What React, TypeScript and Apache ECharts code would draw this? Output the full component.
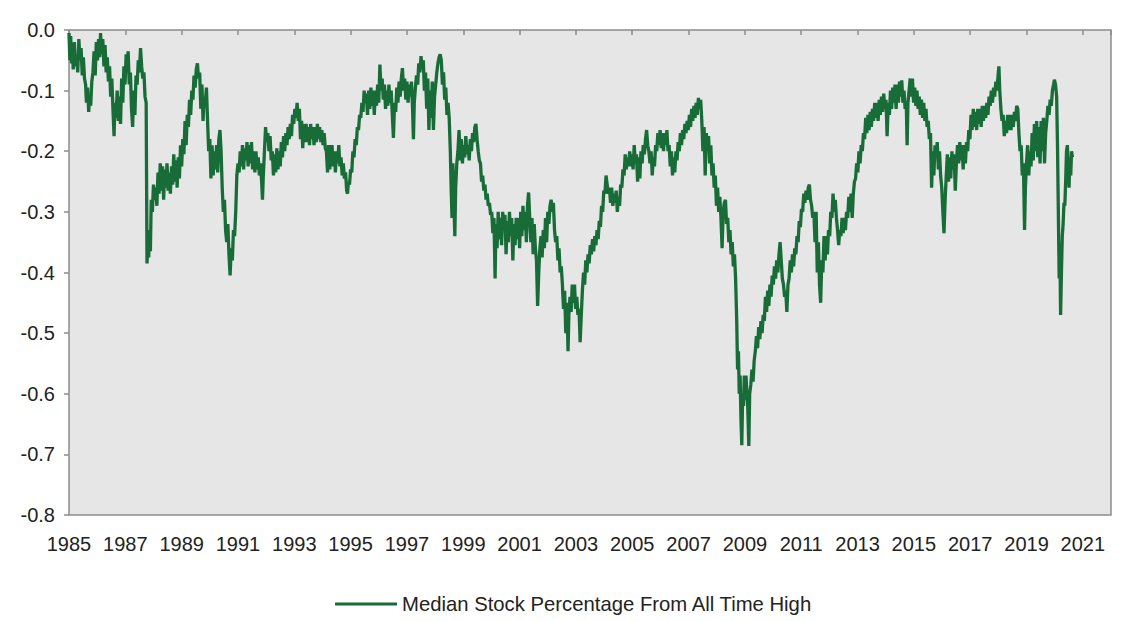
import React, { useEffect, useRef } from "react";
import * as echarts from "echarts";

const BASE_YEAR = 1985;
const END_YEAR = 2022;
const yTicks = [-0.8, -0.7, -0.6, -0.5, -0.4, -0.3, -0.2, -0.1, 0.0];
const seriesName = "Median Stock Percentage From All Time High";

// [decimal year, value]
const s1985_1987: [number, number][] = [
  [1985.00,-0.005],[1985.03,-0.05],[1985.06,-0.01],[1985.09,-0.055],[1985.12,-0.03],[1985.15,-0.065],[1985.19,-0.02],[1985.23,-0.06],[1985.27,-0.04],[1985.31,-0.07],[1985.35,-0.015],[1985.39,-0.05],[1985.43,-0.03],[1985.47,-0.075],[1985.51,-0.045],[1985.55,-0.08],[1985.59,-0.09],[1985.62,-0.12],[1985.66,-0.095],[1985.70,-0.135],[1985.73,-0.11],[1985.77,-0.125],[1985.81,-0.085],[1985.85,-0.07],[1985.89,-0.035],[1985.93,-0.075],[1985.97,-0.02],[1986.01,-0.05],[1986.05,-0.015],[1986.09,-0.045],[1986.12,-0.005],[1986.16,-0.04],[1986.20,-0.015],[1986.24,-0.06],[1986.28,-0.025],[1986.32,-0.07],[1986.36,-0.045],[1986.40,-0.085],[1986.44,-0.06],[1986.48,-0.11],[1986.52,-0.08],[1986.56,-0.13],[1986.60,-0.175],[1986.63,-0.12],[1986.67,-0.145],[1986.71,-0.1],[1986.75,-0.15],[1986.79,-0.11],[1986.83,-0.155],[1986.87,-0.08],[1986.91,-0.12],[1986.95,-0.06],[1986.99,-0.09],[1987.03,-0.04],[1987.07,-0.07],[1987.10,-0.035],[1987.14,-0.09],[1987.18,-0.07],[1987.22,-0.13],[1987.26,-0.16],[1987.30,-0.1],[1987.34,-0.14],[1987.38,-0.075],[1987.42,-0.09],[1987.46,-0.05],[1987.50,-0.07],[1987.54,-0.03],[1987.58,-0.06],[1987.62,-0.08],[1987.66,-0.07],[1987.70,-0.11],[1987.74,-0.12],[1987.77,-0.385],[1987.80,-0.35],[1987.83,-0.375],[1987.86,-0.33],[1987.89,-0.365],[1987.92,-0.28],[1987.96,-0.3],[1988.00,-0.255]
];

const s1988_1990: [number, number][] = [
  [1988.04,-0.28],[1988.08,-0.26],[1988.12,-0.29],[1988.16,-0.235],[1988.20,-0.27],[1988.24,-0.22],[1988.28,-0.265],[1988.32,-0.225],[1988.36,-0.28],[1988.40,-0.23],[1988.44,-0.26],[1988.48,-0.22],[1988.52,-0.265],[1988.56,-0.235],[1988.60,-0.27],[1988.64,-0.225],[1988.68,-0.255],[1988.72,-0.205],[1988.76,-0.25],[1988.80,-0.215],[1988.84,-0.26],[1988.88,-0.21],[1988.92,-0.245],[1988.96,-0.19],[1989.00,-0.225],[1989.04,-0.18],[1989.08,-0.205],[1989.12,-0.15],[1989.16,-0.19],[1989.20,-0.14],[1989.24,-0.16],[1989.28,-0.115],[1989.32,-0.14],[1989.36,-0.1],[1989.40,-0.115],[1989.44,-0.075],[1989.48,-0.095],[1989.52,-0.065],[1989.56,-0.055],[1989.60,-0.08],[1989.64,-0.07],[1989.68,-0.13],[1989.72,-0.09],[1989.76,-0.15],[1989.80,-0.11],[1989.84,-0.12],[1989.88,-0.095],[1989.92,-0.15],[1989.96,-0.2],[1990.00,-0.18],[1990.04,-0.245],[1990.08,-0.19],[1990.12,-0.24],[1990.16,-0.2],[1990.20,-0.23],[1990.24,-0.19],[1990.28,-0.235],[1990.32,-0.18],[1990.36,-0.165],[1990.40,-0.2],[1990.44,-0.26],[1990.48,-0.3],[1990.52,-0.28],[1990.56,-0.33],[1990.60,-0.35],[1990.64,-0.32],[1990.68,-0.37],[1990.72,-0.405],[1990.76,-0.36],[1990.80,-0.38],[1990.84,-0.33],[1990.88,-0.34],[1990.92,-0.3],[1990.96,-0.24],[1991.00,-0.22]
];

const s1991_1995: [number, number][] = [
  [1991.04,-0.235],[1991.08,-0.2],[1991.12,-0.225],[1991.16,-0.19],[1991.20,-0.23],[1991.24,-0.195],[1991.28,-0.215],[1991.32,-0.185],[1991.36,-0.225],[1991.40,-0.19],[1991.44,-0.22],[1991.48,-0.185],[1991.52,-0.23],[1991.56,-0.2],[1991.60,-0.235],[1991.64,-0.2],[1991.68,-0.23],[1991.72,-0.21],[1991.76,-0.24],[1991.80,-0.22],[1991.84,-0.25],[1991.87,-0.28],[1991.90,-0.24],[1991.94,-0.2],[1991.98,-0.16],[1992.02,-0.185],[1992.06,-0.17],[1992.10,-0.2],[1992.14,-0.175],[1992.18,-0.215],[1992.22,-0.2],[1992.26,-0.24],[1992.30,-0.205],[1992.34,-0.235],[1992.38,-0.195],[1992.42,-0.23],[1992.46,-0.2],[1992.50,-0.225],[1992.54,-0.185],[1992.58,-0.21],[1992.62,-0.175],[1992.66,-0.2],[1992.70,-0.17],[1992.74,-0.19],[1992.78,-0.16],[1992.82,-0.18],[1992.86,-0.155],[1992.90,-0.175],[1992.94,-0.14],[1992.98,-0.155],[1993.02,-0.13],[1993.06,-0.145],[1993.10,-0.12],[1993.14,-0.15],[1993.18,-0.13],[1993.22,-0.18],[1993.26,-0.15],[1993.30,-0.195],[1993.34,-0.155],[1993.38,-0.185],[1993.42,-0.155],[1993.46,-0.185],[1993.50,-0.16],[1993.54,-0.19],[1993.58,-0.155],[1993.62,-0.18],[1993.66,-0.16],[1993.70,-0.19],[1993.74,-0.16],[1993.78,-0.185],[1993.82,-0.155],[1993.86,-0.18],[1993.90,-0.16],[1993.94,-0.185],[1993.98,-0.165],[1994.02,-0.19],[1994.06,-0.17],[1994.10,-0.195],[1994.14,-0.2],[1994.18,-0.235],[1994.22,-0.19],[1994.26,-0.23],[1994.30,-0.2],[1994.34,-0.19],[1994.38,-0.225],[1994.42,-0.2],[1994.46,-0.235],[1994.50,-0.2],[1994.54,-0.22],[1994.58,-0.19],[1994.62,-0.225],[1994.66,-0.21],[1994.70,-0.24],[1994.74,-0.22],[1994.78,-0.245],[1994.82,-0.235],[1994.86,-0.265],[1994.89,-0.27],[1994.92,-0.25],[1994.96,-0.255],[1995.00,-0.23],[1995.04,-0.235],[1995.08,-0.2],[1995.12,-0.21],[1995.16,-0.18],[1995.20,-0.19],[1995.24,-0.16],[1995.28,-0.165],[1995.32,-0.14],[1995.36,-0.145],[1995.40,-0.12],[1995.44,-0.135],[1995.48,-0.1]
];

const s1995_2000: [number, number][] = [
  [1995.52,-0.12],[1995.56,-0.105],[1995.60,-0.14],[1995.64,-0.1],[1995.68,-0.13],[1995.72,-0.095],[1995.76,-0.125],[1995.80,-0.1],[1995.84,-0.14],[1995.88,-0.1],[1995.92,-0.125],[1995.96,-0.09],[1996.00,-0.12],[1996.04,-0.057],[1996.08,-0.1],[1996.12,-0.08],[1996.16,-0.115],[1996.20,-0.09],[1996.24,-0.13],[1996.28,-0.1],[1996.32,-0.125],[1996.36,-0.09],[1996.40,-0.12],[1996.44,-0.1],[1996.48,-0.14],[1996.52,-0.178],[1996.56,-0.12],[1996.60,-0.135],[1996.64,-0.095],[1996.68,-0.12],[1996.72,-0.085],[1996.76,-0.11],[1996.80,-0.08],[1996.84,-0.063],[1996.88,-0.1],[1996.92,-0.08],[1996.96,-0.115],[1997.00,-0.085],[1997.04,-0.12],[1997.08,-0.09],[1997.12,-0.11],[1997.16,-0.085],[1997.20,-0.13],[1997.23,-0.18],[1997.26,-0.12],[1997.30,-0.095],[1997.34,-0.075],[1997.38,-0.09],[1997.42,-0.055],[1997.46,-0.07],[1997.50,-0.043],[1997.54,-0.065],[1997.58,-0.05],[1997.62,-0.1],[1997.66,-0.07],[1997.70,-0.13],[1997.74,-0.08],[1997.78,-0.165],[1997.82,-0.1],[1997.86,-0.145],[1997.90,-0.085],[1997.94,-0.165],[1997.98,-0.11],[1998.02,-0.09],[1998.06,-0.07],[1998.10,-0.055],[1998.14,-0.045],[1998.18,-0.04],[1998.22,-0.05],[1998.26,-0.09],[1998.30,-0.07],[1998.34,-0.115],[1998.38,-0.095],[1998.42,-0.14],[1998.46,-0.12],[1998.50,-0.145],[1998.54,-0.2],[1998.57,-0.26],[1998.60,-0.31],[1998.63,-0.22],[1998.66,-0.27],[1998.70,-0.34],[1998.73,-0.26],[1998.77,-0.22],[1998.81,-0.2],[1998.85,-0.165],[1998.89,-0.215],[1998.93,-0.18],[1998.97,-0.22],[1999.01,-0.19],[1999.05,-0.21],[1999.09,-0.175],[1999.13,-0.205],[1999.17,-0.19],[1999.21,-0.215],[1999.25,-0.18],[1999.29,-0.2],[1999.33,-0.17],[1999.37,-0.185],[1999.41,-0.16],[1999.45,-0.155],[1999.49,-0.18],[1999.53,-0.2],[1999.57,-0.215],[1999.61,-0.22],[1999.65,-0.25],[1999.69,-0.24],[1999.73,-0.265],[1999.77,-0.255],[1999.81,-0.28],[1999.85,-0.27],[1999.89,-0.29],[1999.93,-0.285],[1999.97,-0.305],[2000.01,-0.3],[2000.05,-0.335],[2000.09,-0.31],[2000.13,-0.41],[2000.16,-0.32],[2000.20,-0.36],[2000.24,-0.3],[2000.28,-0.345],[2000.32,-0.31],[2000.36,-0.355],[2000.40,-0.3],[2000.44,-0.33],[2000.48,-0.305],[2000.52,-0.37],[2000.56,-0.315],[2000.60,-0.35],[2000.64,-0.3],[2000.68,-0.34],[2000.72,-0.31],[2000.76,-0.38],[2000.80,-0.32],[2000.84,-0.355],[2000.88,-0.31],[2000.92,-0.345]
];

const s2001_2006: [number, number][] = [
  [2000.96,-0.31],[2001.00,-0.36],[2001.04,-0.3],[2001.08,-0.34],[2001.12,-0.29],[2001.16,-0.33],[2001.20,-0.3],[2001.24,-0.35],[2001.28,-0.29],[2001.32,-0.268],[2001.36,-0.31],[2001.40,-0.35],[2001.44,-0.31],[2001.48,-0.37],[2001.52,-0.32],[2001.56,-0.36],[2001.60,-0.38],[2001.64,-0.455],[2001.68,-0.4],[2001.72,-0.36],[2001.76,-0.34],[2001.80,-0.375],[2001.84,-0.33],[2001.88,-0.36],[2001.92,-0.31],[2001.96,-0.35],[2002.00,-0.3],[2002.04,-0.32],[2002.08,-0.29],[2002.12,-0.28],[2002.16,-0.3],[2002.20,-0.285],[2002.24,-0.33],[2002.28,-0.35],[2002.32,-0.34],[2002.36,-0.38],[2002.40,-0.36],[2002.44,-0.4],[2002.48,-0.39],[2002.52,-0.42],[2002.56,-0.46],[2002.60,-0.43],[2002.64,-0.5],[2002.68,-0.45],[2002.72,-0.53],[2002.75,-0.47],[2002.79,-0.44],[2002.83,-0.465],[2002.87,-0.42],[2002.91,-0.45],[2002.95,-0.42],[2002.99,-0.46],[2003.03,-0.44],[2003.07,-0.47],[2003.11,-0.46],[2003.15,-0.515],[2003.19,-0.47],[2003.23,-0.43],[2003.27,-0.4],[2003.31,-0.42],[2003.35,-0.38],[2003.39,-0.4],[2003.43,-0.37],[2003.47,-0.385],[2003.51,-0.355],[2003.55,-0.37],[2003.59,-0.345],[2003.63,-0.365],[2003.67,-0.34],[2003.71,-0.355],[2003.75,-0.33],[2003.79,-0.345],[2003.83,-0.315],[2003.87,-0.325],[2003.91,-0.29],[2003.95,-0.3],[2003.99,-0.265],[2004.03,-0.27],[2004.07,-0.24],[2004.11,-0.255],[2004.15,-0.27],[2004.19,-0.26],[2004.23,-0.285],[2004.27,-0.26],[2004.31,-0.29],[2004.35,-0.27],[2004.39,-0.285],[2004.43,-0.265],[2004.47,-0.3],[2004.51,-0.275],[2004.55,-0.29],[2004.59,-0.255],[2004.63,-0.26],[2004.67,-0.23],[2004.71,-0.24],[2004.75,-0.205],[2004.79,-0.23],[2004.83,-0.21],[2004.87,-0.225],[2004.91,-0.2],[2004.95,-0.225],[2004.99,-0.205],[2005.03,-0.23],[2005.07,-0.19],[2005.11,-0.22],[2005.15,-0.205],[2005.19,-0.25],[2005.23,-0.21],[2005.27,-0.245],[2005.31,-0.2],[2005.35,-0.22],[2005.39,-0.19],[2005.43,-0.205],[2005.47,-0.18],[2005.51,-0.165],[2005.55,-0.19],[2005.59,-0.2],[2005.63,-0.22],[2005.67,-0.2],[2005.71,-0.24],[2005.75,-0.21],[2005.79,-0.225],[2005.83,-0.19],[2005.87,-0.2],[2005.91,-0.17],[2005.95,-0.19],[2005.99,-0.165],[2006.03,-0.195],[2006.07,-0.17],[2006.11,-0.2],[2006.15,-0.17],[2006.19,-0.19]
];

const s2006_2011: [number, number][] = [
  [2006.23,-0.165],[2006.27,-0.2],[2006.31,-0.19],[2006.35,-0.225],[2006.39,-0.2],[2006.43,-0.24],[2006.47,-0.21],[2006.51,-0.235],[2006.55,-0.2],[2006.59,-0.215],[2006.63,-0.185],[2006.67,-0.2],[2006.71,-0.17],[2006.75,-0.19],[2006.79,-0.165],[2006.83,-0.18],[2006.87,-0.155],[2006.91,-0.17],[2006.95,-0.15],[2006.99,-0.165],[2007.03,-0.14],[2007.07,-0.16],[2007.11,-0.13],[2007.15,-0.15],[2007.19,-0.125],[2007.23,-0.145],[2007.27,-0.12],[2007.31,-0.14],[2007.35,-0.112],[2007.39,-0.13],[2007.43,-0.115],[2007.47,-0.15],[2007.51,-0.2],[2007.55,-0.16],[2007.59,-0.24],[2007.63,-0.17],[2007.67,-0.2],[2007.71,-0.175],[2007.75,-0.22],[2007.79,-0.19],[2007.83,-0.24],[2007.87,-0.22],[2007.91,-0.26],[2007.95,-0.24],[2007.99,-0.29],[2008.03,-0.26],[2008.07,-0.3],[2008.11,-0.275],[2008.15,-0.31],[2008.19,-0.36],[2008.23,-0.3],[2008.27,-0.285],[2008.31,-0.28],[2008.35,-0.32],[2008.39,-0.31],[2008.43,-0.35],[2008.47,-0.33],[2008.51,-0.37],[2008.55,-0.35],[2008.59,-0.39],[2008.63,-0.37],[2008.67,-0.41],[2008.71,-0.48],[2008.74,-0.56],[2008.77,-0.53],[2008.80,-0.6],[2008.83,-0.57],[2008.86,-0.64],[2008.89,-0.685],[2008.92,-0.6],[2008.95,-0.62],[2008.98,-0.57],[2009.01,-0.61],[2009.04,-0.57],[2009.07,-0.6],[2009.10,-0.62],[2009.14,-0.686],[2009.17,-0.6],[2009.21,-0.585],[2009.25,-0.56],[2009.29,-0.58],[2009.33,-0.545],[2009.37,-0.53],[2009.41,-0.505],[2009.45,-0.525],[2009.49,-0.49],[2009.53,-0.51],[2009.57,-0.48],[2009.61,-0.5],[2009.65,-0.47],[2009.69,-0.48],[2009.73,-0.44],[2009.77,-0.465],[2009.81,-0.43],[2009.85,-0.455],[2009.89,-0.42],[2009.93,-0.44],[2009.97,-0.405],[2010.01,-0.42],[2010.05,-0.39],[2010.09,-0.41],[2010.13,-0.38],[2010.17,-0.4],[2010.21,-0.37],[2010.25,-0.35],[2010.29,-0.38],[2010.33,-0.41],[2010.37,-0.42],[2010.41,-0.44],[2010.45,-0.43],[2010.49,-0.465],[2010.53,-0.42],[2010.57,-0.41],[2010.61,-0.38],[2010.65,-0.4],[2010.69,-0.37],[2010.73,-0.39],[2010.77,-0.36],[2010.81,-0.37],[2010.85,-0.34],[2010.89,-0.35],[2010.93,-0.315],[2010.97,-0.325],[2011.01,-0.295],[2011.05,-0.3],[2011.09,-0.27],[2011.13,-0.285],[2011.17,-0.265],[2011.21,-0.28],[2011.25,-0.26],[2011.29,-0.255],[2011.33,-0.28],[2011.37,-0.29],[2011.41,-0.31],[2011.45,-0.3],[2011.49,-0.35],[2011.53,-0.3],[2011.57,-0.4],[2011.61,-0.35],[2011.65,-0.42],[2011.69,-0.45],[2011.73,-0.38]
];

const s2011_2016: [number, number][] = [
  [2011.77,-0.4],[2011.81,-0.34],[2011.85,-0.38],[2011.89,-0.34],[2011.93,-0.37],[2011.97,-0.33],[2012.01,-0.34],[2012.05,-0.3],[2012.09,-0.31],[2012.13,-0.27],[2012.17,-0.3],[2012.21,-0.28],[2012.25,-0.31],[2012.29,-0.33],[2012.33,-0.355],[2012.37,-0.33],[2012.41,-0.34],[2012.45,-0.31],[2012.49,-0.335],[2012.53,-0.31],[2012.57,-0.33],[2012.61,-0.3],[2012.65,-0.31],[2012.69,-0.275],[2012.73,-0.3],[2012.77,-0.27],[2012.81,-0.31],[2012.85,-0.27],[2012.89,-0.25],[2012.93,-0.245],[2012.97,-0.22],[2013.01,-0.235],[2013.05,-0.2],[2013.09,-0.22],[2013.13,-0.19],[2013.17,-0.2],[2013.21,-0.17],[2013.25,-0.18],[2013.29,-0.145],[2013.33,-0.17],[2013.37,-0.14],[2013.41,-0.165],[2013.45,-0.135],[2013.49,-0.16],[2013.53,-0.13],[2013.57,-0.15],[2013.61,-0.12],[2013.65,-0.145],[2013.69,-0.12],[2013.73,-0.15],[2013.77,-0.115],[2013.81,-0.14],[2013.85,-0.11],[2013.89,-0.135],[2013.93,-0.105],[2013.97,-0.13],[2014.01,-0.115],[2014.05,-0.175],[2014.09,-0.12],[2014.13,-0.14],[2014.17,-0.1],[2014.21,-0.13],[2014.25,-0.095],[2014.29,-0.12],[2014.33,-0.09],[2014.37,-0.13],[2014.41,-0.09],[2014.45,-0.12],[2014.49,-0.085],[2014.53,-0.11],[2014.57,-0.083],[2014.61,-0.12],[2014.65,-0.1],[2014.69,-0.13],[2014.73,-0.12],[2014.76,-0.19],[2014.79,-0.12],[2014.83,-0.1],[2014.87,-0.08],[2014.91,-0.11],[2014.95,-0.08],[2014.99,-0.12],[2015.03,-0.095],[2015.07,-0.125],[2015.11,-0.1],[2015.15,-0.13],[2015.19,-0.11],[2015.23,-0.14],[2015.27,-0.115],[2015.31,-0.145],[2015.35,-0.12],[2015.39,-0.15],[2015.43,-0.13],[2015.47,-0.16],[2015.51,-0.15],[2015.55,-0.18],[2015.59,-0.17],[2015.63,-0.26],[2015.67,-0.2],[2015.71,-0.24],[2015.75,-0.19],[2015.79,-0.21],[2015.83,-0.185],[2015.87,-0.23],[2015.91,-0.2],[2015.95,-0.24],[2015.99,-0.26],[2016.03,-0.3],[2016.07,-0.335],[2016.11,-0.28],[2016.15,-0.24],[2016.19,-0.205],[2016.23,-0.25],[2016.27,-0.21],[2016.31,-0.245],[2016.35,-0.2],[2016.39,-0.23],[2016.43,-0.205],[2016.47,-0.265],[2016.51,-0.22],[2016.55,-0.19],[2016.59,-0.22],[2016.63,-0.185],[2016.67,-0.215],[2016.71,-0.19],[2016.75,-0.23],[2016.79,-0.19],[2016.83,-0.22],[2016.87,-0.185],[2016.91,-0.2],[2016.95,-0.165],[2016.99,-0.18]
];

const s2017_2020: [number, number][] = [
  [2017.03,-0.14],[2017.07,-0.165],[2017.11,-0.13],[2017.15,-0.16],[2017.19,-0.135],[2017.23,-0.165],[2017.27,-0.13],[2017.31,-0.155],[2017.35,-0.13],[2017.39,-0.16],[2017.43,-0.125],[2017.47,-0.15],[2017.51,-0.125],[2017.55,-0.145],[2017.59,-0.12],[2017.63,-0.14],[2017.67,-0.11],[2017.71,-0.125],[2017.75,-0.1],[2017.79,-0.12],[2017.83,-0.095],[2017.87,-0.11],[2017.91,-0.085],[2017.95,-0.1],[2017.99,-0.075],[2018.02,-0.06],[2018.05,-0.1],[2018.09,-0.13],[2018.13,-0.15],[2018.17,-0.14],[2018.21,-0.175],[2018.25,-0.15],[2018.29,-0.17],[2018.33,-0.14],[2018.37,-0.165],[2018.41,-0.14],[2018.45,-0.165],[2018.49,-0.14],[2018.53,-0.16],[2018.57,-0.135],[2018.61,-0.15],[2018.65,-0.125],[2018.69,-0.13],[2018.73,-0.17],[2018.77,-0.2],[2018.81,-0.19],[2018.85,-0.24],[2018.89,-0.22],[2018.93,-0.33],[2018.96,-0.26],[2019.00,-0.22],[2019.04,-0.19],[2019.08,-0.24],[2019.12,-0.2],[2019.16,-0.225],[2019.20,-0.17],[2019.24,-0.215],[2019.28,-0.155],[2019.32,-0.2],[2019.36,-0.15],[2019.40,-0.21],[2019.44,-0.16],[2019.48,-0.22],[2019.52,-0.15],[2019.56,-0.2],[2019.60,-0.145],[2019.64,-0.22],[2019.68,-0.17],[2019.72,-0.15],[2019.76,-0.125],[2019.80,-0.14],[2019.84,-0.115],[2019.88,-0.125],[2019.92,-0.1],[2019.96,-0.09],[2019.99,-0.082],[2020.03,-0.09],[2020.07,-0.11],[2020.10,-0.19],[2020.13,-0.3],[2020.16,-0.41],[2020.19,-0.38],[2020.21,-0.47],[2020.24,-0.4],[2020.27,-0.34],[2020.30,-0.32],[2020.33,-0.285],[2020.36,-0.29],[2020.39,-0.25],[2020.42,-0.2],[2020.45,-0.19],[2020.48,-0.22],[2020.51,-0.26],[2020.54,-0.21],[2020.57,-0.24],[2020.60,-0.2],[2020.63,-0.21]
];

const segments = [s1985_1987, s1988_1990, s1991_1995, s1995_2000, s2001_2006, s2006_2011, s2011_2016, s2017_2020];

const FONT = "'Liberation Sans', Arial, sans-serif";
const GREEN = "#176c38";
const GRAY = "#8c8c8c";

export default function App() {
  const ref = useRef<HTMLDivElement>(null);
  useEffect(() => {
    if (!ref.current) return;
    const chart = echarts.init(ref.current, undefined, { renderer: "svg" });
    const data: [number, number][] = [];
    segments.forEach((seg) => seg.forEach(([yr, v]) => data.push([yr - BASE_YEAR, v])));
    const span = END_YEAR - BASE_YEAR;
    chart.setOption({
      animation: false,
      grid: {
        left: 69,
        right: 21,
        top: 30,
        bottom: 106,
        show: true,
        backgroundColor: "#e6e6e6",
        borderColor: GRAY,
        borderWidth: 1.5,
      },
      legend: {
        data: [seriesName],
        left: 330,
        top: 589,
        icon: "rect",
        itemWidth: 62,
        itemHeight: 3,
        textStyle: { fontFamily: FONT, fontSize: 20.3, color: "#222" },
      },
      xAxis: [
        {
          type: "value",
          min: 0,
          max: span,
          interval: 2,
          position: "bottom",
          axisLine: { show: false },
          axisTick: { show: false },
          splitLine: { show: false },
          axisLabel: {
            showMaxLabel: false,
            margin: 19,
            fontFamily: FONT,
            fontSize: 20,
            color: "#222",
            formatter: (v: number) => String(BASE_YEAR + Math.round(v)),
          },
        },
        {
          type: "value",
          min: 0,
          max: span,
          interval: 2,
          position: "top",
          axisLine: { show: false },
          axisTick: { show: true, inside: true, length: 5, lineStyle: { color: GRAY, width: 1.5 } },
          splitLine: { show: false },
          axisLabel: { show: false },
        },
      ],
      yAxis: {
        type: "value",
        min: yTicks[0],
        max: yTicks[yTicks.length - 1],
        interval: 0.1,
        axisLine: { show: false },
        axisTick: { show: true, length: 5, lineStyle: { color: GRAY, width: 1.5 } },
        splitLine: { show: false },
        axisLabel: {
          margin: 14,
          fontFamily: FONT,
          fontSize: 20,
          color: "#222",
          formatter: (v: number) => (Math.abs(v) < 1e-9 ? "0.0" : v.toFixed(1)),
        },
      },
      series: [
        {
          name: seriesName,
          type: "line",
          data,
          symbol: "none",
          xAxisIndex: 0,
          lineStyle: { color: GREEN, width: 3.3 },
          itemStyle: { color: GREEN },
        },
      ],
    });
    return () => chart.dispose();
  }, []);
  return <div ref={ref} style={{ position: "absolute", left: 0, top: 0, width: 1132, height: 621 }} />;
}
